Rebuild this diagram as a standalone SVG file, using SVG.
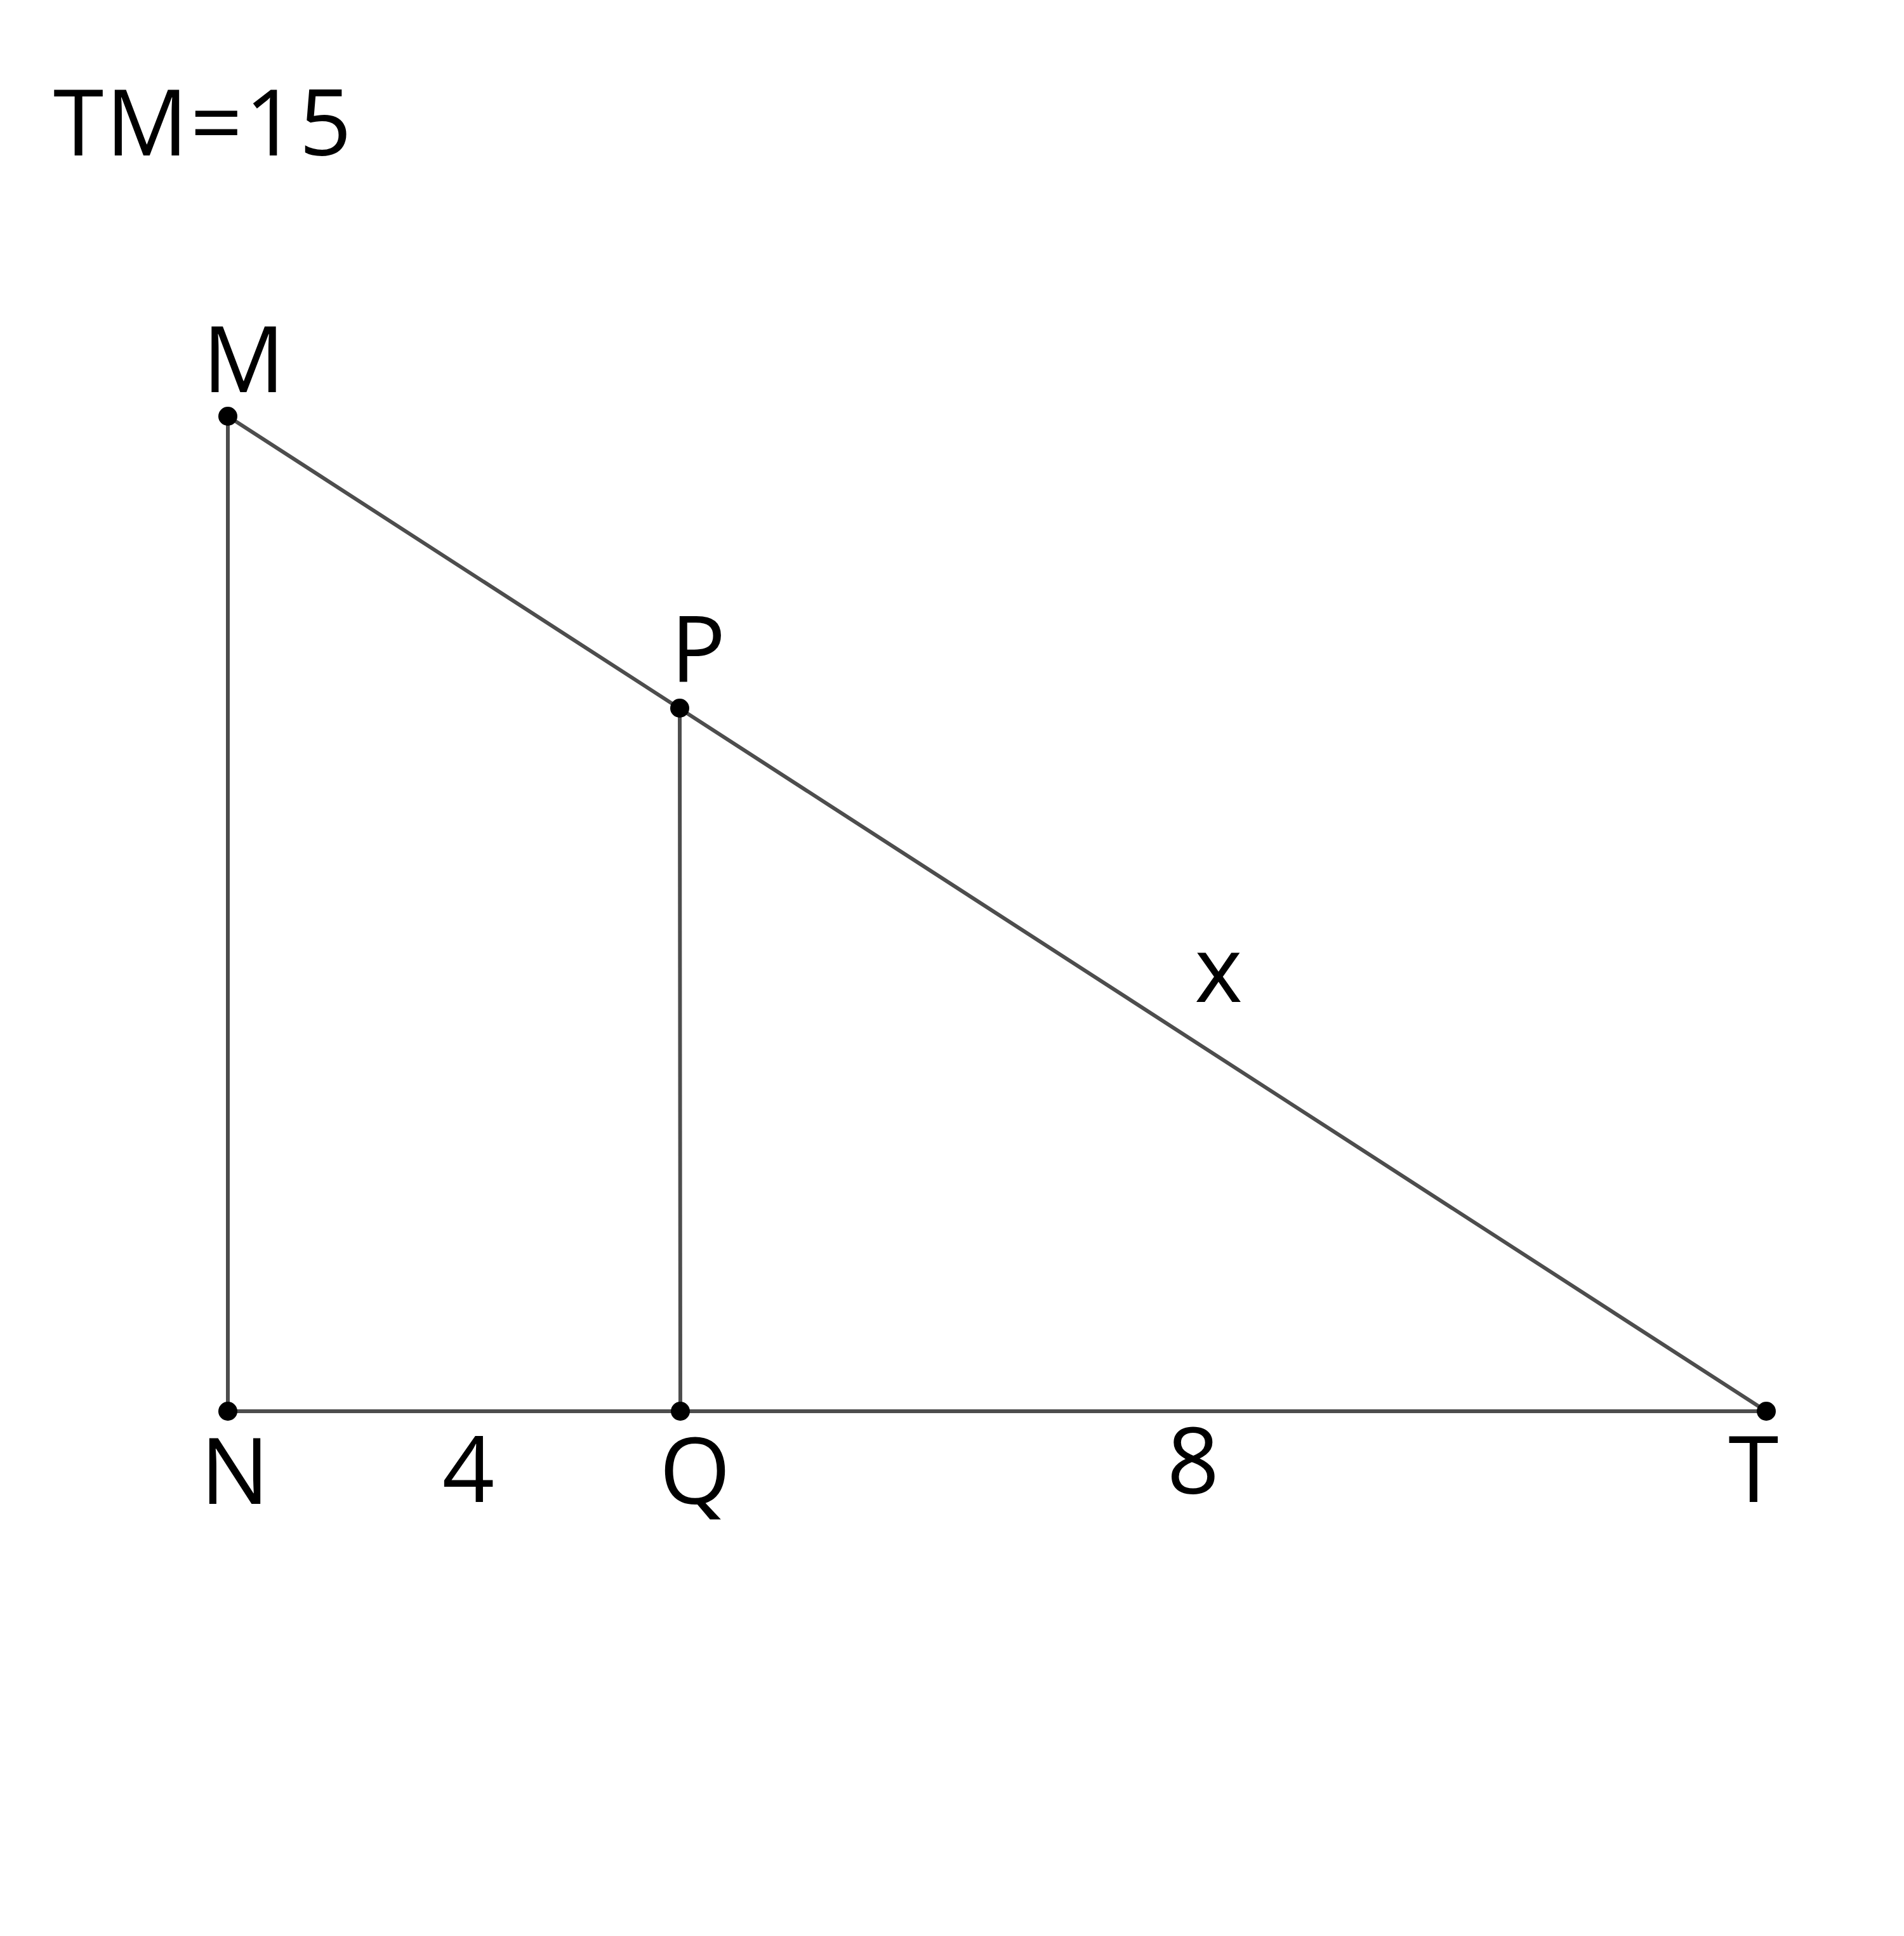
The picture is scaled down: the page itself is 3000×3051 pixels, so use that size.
<svg xmlns="http://www.w3.org/2000/svg" width="3000" height="3051" viewBox="0 0 3000 3051">
<style>
.lbl{font-family:"Open Sans","DejaVu Sans",sans-serif;font-size:144px;fill:#000;text-anchor:middle}
.seg{stroke:#4d4d4d;stroke-width:6;fill:none;stroke-linecap:round}
.pt{fill:#000}
</style>
<rect width="3000" height="3051" fill="#fff"/>
<text class="lbl" x="84" y="245" style="text-anchor:start;letter-spacing:3.5px">TM=15</text>
<g id="connectors">
<line class="seg" x1="359" y1="656" x2="359" y2="2224"/>
<line class="seg" x1="359" y1="2224" x2="2783" y2="2224"/>
<line class="seg" x1="359" y1="656" x2="2783" y2="2224"/>
<line class="seg" x1="1071" y1="1116" x2="1072" y2="2224"/>
</g>
<g id="M"><circle class="pt" cx="359" cy="656" r="15"/><text class="lbl" x="384" y="618">M</text></g>
<g id="P"><circle class="pt" cx="1071" cy="1116" r="15"/><text class="lbl" x="1100" y="1075">P</text></g>
<g id="N"><circle class="pt" cx="359" cy="2224" r="15"/><text class="lbl" x="370" y="2370">N</text></g>
<g id="Q"><circle class="pt" cx="1072" cy="2224" r="15"/><text class="lbl" x="1095" y="2370">Q</text></g>
<g id="T"><circle class="pt" cx="2783" cy="2224" r="15"/><text class="lbl" x="2763" y="2367">T</text></g>
<g id="labels">
<text class="lbl" x="738" y="2367">4</text>
<text class="lbl" x="1880" y="2354">8</text>
<text class="lbl" x="1920" y="1579">x</text>
</g>
</svg>
